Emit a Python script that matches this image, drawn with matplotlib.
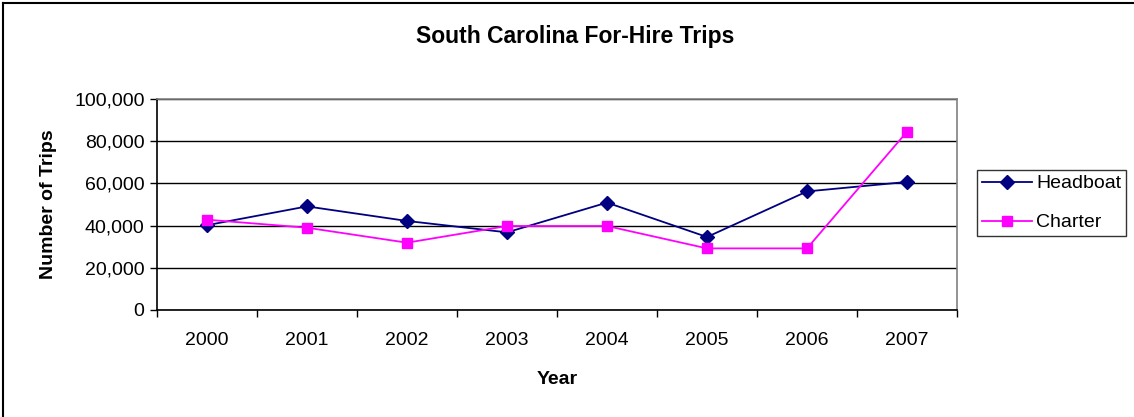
import matplotlib
matplotlib.use("Agg")
import matplotlib.pyplot as plt
from matplotlib.lines import Line2D
from matplotlib.ticker import FuncFormatter, FixedLocator

plt.rcParams['font.family'] = ['Liberation Sans', 'DejaVu Sans']

years = ['2000', '2001', '2002', '2003', '2004', '2005', '2006', '2007']
headboat = [40200, 49100, 42200, 36800, 50900, 34600, 56200, 60700]
charter = [42800, 39000, 31900, 39800, 39800, 29200, 29200, 84500]
y_ticks = [0, 20000, 40000, 60000, 80000, 100000]

W, H = 1134, 417
fig = plt.figure(figsize=(W / 100, H / 100), dpi=100)
ax = fig.add_axes([157 / W, 1 - 310 / H, 800 / W, 211 / H])

x = list(range(len(years)))
ax.plot(x, headboat, color='#000080', lw=1.3, marker='D', ms=7, label='Headboat', zorder=3)
ax.plot(x, charter, color='#FF00FF', lw=1.3, marker='s', ms=7.5, label='Charter', zorder=3)

ax.set_xlim(-0.5, len(years) - 0.5)
ax.set_ylim(0, 100000)
ax.yaxis.set_major_locator(FixedLocator(y_ticks))
ax.yaxis.set_major_formatter(FuncFormatter(lambda v, p: f'{int(v):,}'))
ax.set_xticks([i - 0.5 for i in range(len(years) + 1)])
ax.set_xticklabels([])
ax.set_xticks(x, minor=True)
ax.set_xticklabels(years, minor=True)
ax.tick_params(axis='x', which='minor', length=0, pad=16, labelsize=14)
ax.tick_params(axis='x', which='major', length=5, width=1, color='black', direction='out')
ax.tick_params(axis='y', length=5, width=1, color='black', direction='out', labelsize=14, pad=4)

ax.grid(axis='y', color='black', lw=1)
ax.set_axisbelow(True)
for s in ['top', 'right']:
    ax.spines[s].set_color('#808080')
    ax.spines[s].set_linewidth(1.2)
for s in ['left', 'bottom']:
    ax.spines[s].set_color('black')
    ax.spines[s].set_linewidth(1.2)

ax.set_xlabel('Year', fontsize=14, fontweight='bold', labelpad=16)
ax.set_ylabel('Number of Trips', fontsize=14, fontweight='bold', labelpad=12)
fig.text(575 / W, 1 - 36 / H, 'South Carolina For-Hire Trips', fontsize=16.5,
         fontweight='bold', ha='center', va='center')

leg = ax.legend(loc='upper left', bbox_to_anchor=(977 / W, 1 - 170 / H),
                bbox_transform=fig.transFigure, frameon=True, fancybox=False,
                edgecolor='black', fontsize=14, handlelength=2.6,
                borderpad=0.25, labelspacing=1.1, handletextpad=0.2, borderaxespad=0)
leg.get_frame().set_linewidth(1)

fig.add_artist(Line2D([3 / W, 3 / W], [0, 1 - 3 / H], color='black', lw=1.5,
                      transform=fig.transFigure))
fig.add_artist(Line2D([3 / W, 1], [1 - 3 / H, 1 - 3 / H], color='black', lw=1.5,
                      transform=fig.transFigure))

fig.savefig('out.png', dpi=100)
